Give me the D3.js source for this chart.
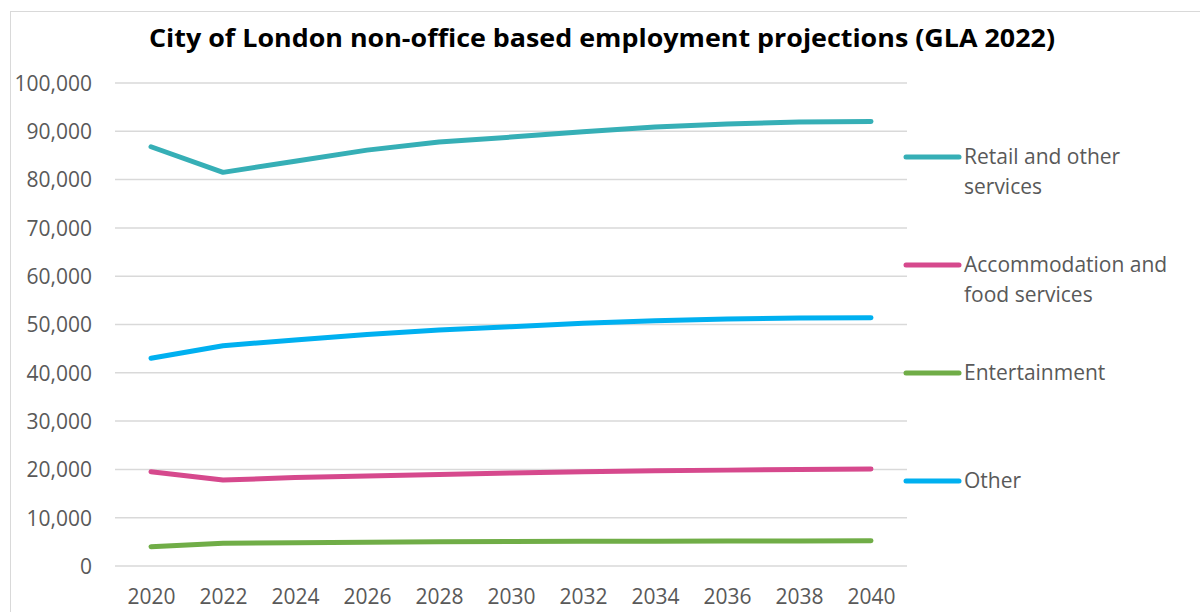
<!DOCTYPE html>
<html>
<head>
<meta charset="utf-8">
<script src="https://cdn.jsdelivr.net/npm/d3@7"></script>
<style>
  html, body { margin: 0; padding: 0; background: #fff; }
  svg { display: block; }
</style>
</head>
<body>
<svg id="chart" width="1200" height="612"></svg>
<script>
const title = "City of London non-office based employment projections (GLA 2022)";
const years = ["2020","2022","2024","2026","2028","2030","2032","2034","2036","2038","2040"];
const yTicks = [0,10000,20000,30000,40000,50000,60000,70000,80000,90000,100000];

const retail = [86800,81500,83800,86100,87800,88800,89900,90900,91500,91900,92050];
const accommodation = [19500,17800,18300,18650,18950,19250,19500,19700,19850,20000,20100];
const entertainment = [4000,4700,4800,4900,5000,5050,5100,5150,5200,5200,5250];
const other = [43000,45600,46800,47950,48850,49550,50250,50800,51150,51350,51400];

const seriesNames = ["Retail and other services","Accommodation and food services","Entertainment","Other"];
const seriesLegendLines = [["Retail and other","services"],["Accommodation and","food services"],["Entertainment"],["Other"]];
const seriesColors = ["#36AFB6","#D6498D","#70AD47","#00B0F0"];
const seriesValues = [retail, accommodation, entertainment, other];

const svg = d3.select("#chart");
const font = "'Open Sans', 'Noto Sans', sans-serif";

// outer chart border
svg.append("rect").attr("x",10.5).attr("y",11.5).attr("width",1300).attr("height",700)
  .attr("fill","none").attr("stroke","#D9D9D9").attr("stroke-width",1);

// title
svg.append("text").attr("x",602).attr("y",47).attr("text-anchor","middle")
  .attr("font-family",font).attr("font-weight","bold").attr("font-size",25)
  .attr("fill","#000").attr("textLength",906).attr("lengthAdjust","spacingAndGlyphs")
  .text(title);

const plot = {left:115, right:907, top:83, bottom:566};

const x = d3.scalePoint().domain(years).range([plot.left, plot.right]).padding(0.5);
const y = d3.scaleLinear().domain([0,100000]).range([plot.bottom, plot.top]);

// gridlines
svg.append("g").selectAll("line").data(yTicks).join("line")
  .attr("x1",plot.left).attr("x2",plot.right)
  .attr("y1",d=>y(d)).attr("y2",d=>y(d))
  .attr("stroke","#D9D9D9").attr("stroke-width",1.5);

// y axis
const yAxis = d3.axisLeft(y).tickValues(yTicks).tickSize(0).tickPadding(0)
  .tickFormat(d3.format(","));
const gy = svg.append("g").attr("transform",`translate(92,0)`).call(yAxis);
gy.select(".domain").remove();
gy.selectAll("text").attr("font-family",font).attr("font-size",21).attr("fill","#595959").attr("dy","0.35em");

// x axis
const xAxis = d3.axisBottom(x).tickSize(0).tickPadding(0);
const gx = svg.append("g").attr("transform",`translate(0,604)`).call(xAxis);
gx.select(".domain").remove();
gx.selectAll("text").attr("font-family",font).attr("font-size",21).attr("fill","#595959").attr("dy","0");

// lines
const line = d3.line().x((d,i)=>x(years[i])).y(d=>y(d));
svg.append("g").selectAll("path").data(seriesValues).join("path")
  .attr("d",d=>line(d)).attr("fill","none")
  .attr("stroke",(d,i)=>seriesColors[i]).attr("stroke-width",5)
  .attr("stroke-linecap","round").attr("stroke-linejoin","round");

// legend
const legendY = [157, 265, 373, 481];
const lg = svg.append("g").selectAll("g").data(seriesNames).join("g")
  .attr("transform",(d,i)=>`translate(0,${legendY[i]})`);
lg.append("line").attr("x1",906).attr("x2",959).attr("y1",0).attr("y2",0)
  .attr("stroke",(d,i)=>seriesColors[i]).attr("stroke-width",5).attr("stroke-linecap","round");
lg.append("text").attr("x",964).attr("y",7)
  .attr("font-family",font).attr("font-size",21).attr("fill","#595959")
  .selectAll("tspan").data((d,i)=>seriesLegendLines[i]).join("tspan")
  .attr("x",964).attr("dy",(d,j)=>j===0?0:30).text(d=>d);
</script>
</body>
</html>
